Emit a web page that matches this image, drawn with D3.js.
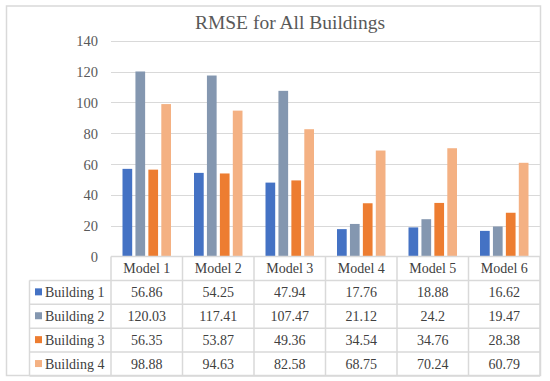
<!DOCTYPE html>
<html>
<head>
<meta charset="utf-8">
<script src="https://cdn.jsdelivr.net/npm/d3@7"></script>
<style>
  body { margin: 0; background: #fff; }
  svg text { font-family: "Liberation Serif", "Times New Roman", serif; }
</style>
</head>
<body>
<div id="chart"></div>
<script>
// chart data
var models = ["Model 1", "Model 2", "Model 3", "Model 4", "Model 5", "Model 6"];
var seriesNames = ["Building 1", "Building 2", "Building 3", "Building 4"];
var building1 = [56.86, 54.25, 47.94, 17.76, 18.88, 16.62];
var building2 = [120.03, 117.41, 107.47, 21.12, 24.2, 19.47];
var building3 = [56.35, 53.87, 49.36, 34.54, 34.76, 28.38];
var building4 = [98.88, 94.63, 82.58, 68.75, 70.24, 60.79];
var yTicks = [0, 20, 40, 60, 80, 100, 120, 140];
var colors = ["#4472C4", "#8497B0", "#ED7D31", "#F4B183"];

var series = [building1, building2, building3, building4];

var width = 550, height = 381;
var plotLeft = 111, plotRight = 540;
var plotTop = 40.7, plotBottom = 256.5;
var rowH = 23.9;
var legendLeft = 29.5;

var svg = d3.select("#chart")
	.append("svg")
	.attr("width", width)
	.attr("height", height);

// outer chart border
svg.append("rect")
	.attr("x", 6.5)
	.attr("y", 6)
	.attr("width", 534)
	.attr("height", 369.5)
	.style("fill", "none")
	.style("stroke", "#d9d9d9")
	.style("stroke-width", 1.5);

// title
svg.append("text")
	.text("RMSE for All Buildings")
	.attr("x", 290)
	.attr("y", 29)
	.attr("text-anchor", "middle")
	.style("font-size", "19.5px")
	.style("fill", "#595959");

var x0 = d3.scaleBand()
	.domain(models)
	.range([plotLeft, plotRight]);

var x1 = d3.scaleBand()
	.domain(seriesNames)
	.range([11.5, x0.bandwidth() - 11.5])
	.paddingInner(0.25);

var y = d3.scaleLinear()
	.domain([0, 140])
	.range([plotBottom, plotTop]);

// gridlines
svg.append("g")
	.selectAll("line")
	.data(yTicks.slice(1))
	.enter().append("line")
	.attr("x1", plotLeft)
	.attr("x2", plotRight)
	.attr("y1", function(d) { return Math.round(y(d)) + 0.5; })
	.attr("y2", function(d) { return Math.round(y(d)) + 0.5; })
	.style("stroke", "#d9d9d9")
	.style("stroke-width", 1);

// y axis labels
var yAxis = d3.axisLeft(y).tickValues(yTicks).tickSize(0).tickPadding(0);
var yg = svg.append("g")
	.attr("transform", "translate(98,0)")
	.call(yAxis)
	.attr("font-family", "'Liberation Serif', serif")
	.attr("font-size", 14.5);
yg.select(".domain").remove();
yg.selectAll("text")
	.attr("dy", "0.35em")
	.attr("fill", "#595959");

// bars
var groups = svg.append("g")
	.selectAll("g")
	.data(models)
	.enter().append("g")
	.attr("transform", function(d) { return "translate(" + x0(d) + ",0)"; });

groups.selectAll("rect")
	.data(function(d, i) {
		return seriesNames.map(function(s, j) { return {name: s, value: series[j][i], idx: j}; });
	})
	.enter().append("rect")
	.attr("x", function(d) { return x1(d.name); })
	.attr("width", x1.bandwidth())
	.attr("y", function(d) { return y(d.value); })
	.attr("height", function(d) { return y(0) - y(d.value); })
	.style("fill", function(d) { return colors[d.idx]; });

// data table
var table = svg.append("g");
var tableBottom = plotBottom + rowH * 5;
var lineColor = "#d9d9d9";

// horizontal lines
for (var r = 0; r <= 5; r++) {
	var ly = plotBottom + rowH * r;
	table.append("line")
		.attr("x1", r == 0 ? plotLeft : legendLeft)
		.attr("x2", plotRight)
		.attr("y1", ly)
		.attr("y2", ly)
		.style("stroke", lineColor)
		.style("stroke-width", 1.5);
}
// vertical lines
table.append("line")
	.attr("x1", legendLeft).attr("x2", legendLeft)
	.attr("y1", plotBottom + rowH).attr("y2", tableBottom)
	.style("stroke", lineColor).style("stroke-width", 1.5);
x0.domain().forEach(function(m) {
	table.append("line")
		.attr("x1", x0(m)).attr("x2", x0(m))
		.attr("y1", plotBottom).attr("y2", tableBottom)
		.style("stroke", lineColor).style("stroke-width", 1.5);
});
table.append("line")
	.attr("x1", plotRight).attr("x2", plotRight)
	.attr("y1", plotBottom).attr("y2", tableBottom)
	.style("stroke", lineColor).style("stroke-width", 1.5);

// header
table.selectAll(".head")
	.data(models)
	.enter().append("text")
	.attr("class", "head")
	.attr("x", function(d) { return x0(d) + x0.bandwidth() / 2; })
	.attr("y", plotBottom + rowH / 2 + 5)
	.attr("text-anchor", "middle")
	.style("font-size", "14px")
	.style("fill", "#404040")
	.text(function(d) { return d; });

// rows
seriesNames.forEach(function(s, j) {
	var cy = plotBottom + rowH * (j + 1) + rowH / 2;
	table.append("rect")
		.attr("x", 35)
		.attr("y", cy - 4)
		.attr("width", 7)
		.attr("height", 7)
		.style("fill", colors[j]);
	table.append("text")
		.attr("x", 45)
		.attr("y", cy + 5)
		.style("font-size", "14px")
		.style("fill", "#404040")
		.text(s);
	table.selectAll(".v" + j)
		.data(series[j])
		.enter().append("text")
		.attr("class", "v" + j)
		.attr("x", function(d, i) { return x0(models[i]) + x0.bandwidth() / 2; })
		.attr("y", cy + 5)
		.attr("text-anchor", "middle")
		.style("font-size", "14px")
		.style("fill", "#404040")
		.text(function(d) { return d; });
});
</script>
</body>
</html>
